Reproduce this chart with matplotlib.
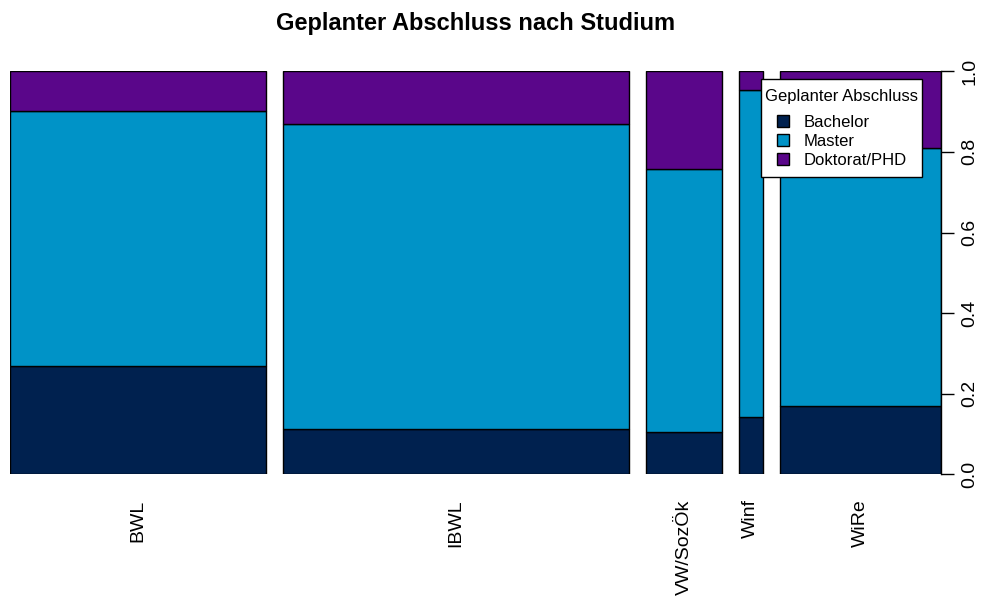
import numpy as np
import matplotlib
matplotlib.use("Agg")
import matplotlib.pyplot as plt
from matplotlib.patches import Patch
from matplotlib.path import Path

plt.rcParams['font.family'] = ['Liberation Sans', 'DejaVu Sans']

# counts per Studium
studium = ["BWL", "IBWL", "VW/SozÖk", "Winf", "WiRe"]
bachelor = [60, 34, 7, 3, 24]
master = [142, 230, 43, 17, 90]
doktorat = [22, 40, 16, 1, 27]
levels = ["Bachelor", "Master", "Doktorat/PHD"]
colors = ["#00214f", "#0093c7", "#5a068a"]

counts = np.array([bachelor, master, doktorat], dtype=float)
totals = counts.sum(axis=0)
props = counts / totals

# spineplot x positions: widths ~ n, gap of 0.02 between bars
gap = 0.02
widths = totals / totals.sum()
lefts = np.concatenate([[0], np.cumsum(widths + gap)[:-1]])

fig = plt.figure(figsize=(9.92, 6.03), dpi=100)
ax = fig.add_axes([10.3 / 992, 1 - 474.3 / 603, 930.4 / 992, 403 / 603])

bottom = np.zeros(len(studium))
for i in range(len(levels)):
    ax.bar(lefts, props[i], width=widths, bottom=bottom, align='edge',
           color=colors[i], edgecolor='black', linewidth=1.0)
    bottom += props[i]

ax.set_xlim(0, lefts[-1] + widths[-1])
ax.set_ylim(0, 1)

for s in ['top', 'left', 'bottom']:
    ax.spines[s].set_visible(False)
ax.spines['right'].set_linewidth(1.0)

ax.yaxis.tick_right()
ax.set_yticks([0, 0.2, 0.4, 0.6, 0.8, 1.0])
ax.set_yticklabels(["0.0", "0.2", "0.4", "0.6", "0.8", "1.0"])
ax.tick_params(axis='y', length=9, width=1.0, pad=6, labelsize=14,
               labelrotation=90)
for lab in ax.get_yticklabels():
    lab.set_verticalalignment('center')

ax.set_xticks(lefts + widths / 2)
ax.set_xticklabels(studium, rotation=90, ha='center', va='top')
ax.tick_params(axis='x', length=0, pad=18, labelsize=14)

ax.set_title("Geplanter Abschluss nach Studium", fontsize=17,
             fontweight='bold', pad=30)


# legend frame: a bit more room above and below than at the sides (like R)
def legend_box(x0, y0, width, height, mutation_size):
    ext = 0.31 * mutation_size
    y0 = y0 - ext
    height = height + 2 * ext
    return Path([(x0, y0), (x0 + width, y0), (x0 + width, y0 + height),
                 (x0, y0 + height), (x0, y0)], closed=True)


handles = [Patch(facecolor=c, edgecolor='black', linewidth=1.0) for c in colors]
leg = ax.legend(handles, levels, title="Geplanter Abschluss", fontsize=12,
                title_fontsize=12, loc='upper right',
                bbox_to_anchor=((922.3 - 10.3) / 930.4, (474.3 - 84.5) / 403),
                handlelength=0.72, handleheight=0.72, handletextpad=0.85,
                labelspacing=0.24, borderpad=0.25, borderaxespad=0,
                fancybox=False, framealpha=1, edgecolor='black')
leg.get_frame().set_linewidth(1.0)
leg.get_frame().set_boxstyle(legend_box)
leg._legend_box.sep = 7.9  # gap between title and entries

fig.savefig("out.png", dpi=100)
